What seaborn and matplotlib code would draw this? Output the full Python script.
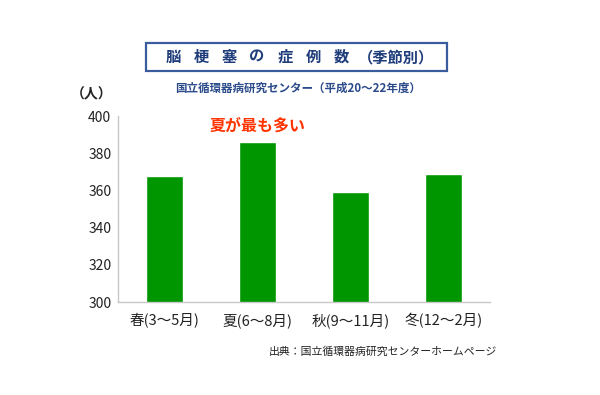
import matplotlib
matplotlib.use('Agg')
import matplotlib.pyplot as plt
import seaborn as sns
import pandas as pd
from matplotlib.patches import Rectangle

# Data
seasons = ['春(3～5月)', '夏(6～8月)', '秋(9～11月)', '冬(12～2月)']
cases = [368, 386, 359, 369]
y_ticks = [300, 320, 340, 360, 380, 400]

df = pd.DataFrame({'season': seasons, 'cases': cases})

sns.set_theme(style='white')
plt.rcParams['font.family'] = ['Noto Sans CJK JP', 'DejaVu Sans']

W, H = 600, 395
fig = plt.figure(figsize=(6, 3.95), dpi=100)
ax = fig.add_axes([0.197, 0.235, 0.62, 0.471])

sns.barplot(data=df, x='season', y='cases', color='#009600', width=0.4,
            saturation=1, ax=ax)

ax.set_ylim(300, 400)
ax.set_xlim(-0.5, 3.5)
ax.set_yticks(y_ticks)
ax.set_xlabel('')
ax.set_ylabel('')
ax.tick_params(axis='y', labelsize=10, colors='#222222', length=0, pad=5)
ax.tick_params(axis='x', labelsize=10.5, colors='#222222', length=0, pad=8)
for s in ['top', 'right']:
    ax.spines[s].set_visible(False)
for s in ['left', 'bottom']:
    ax.spines[s].set_color('#c8c8c8')
    ax.spines[s].set_linewidth(1)

# title box
fig.patches.append(Rectangle((146 / W, 1 - 71 / H), 301 / W, 28 / H, transform=fig.transFigure,
                             fc='white', ec='#3b5c9c', lw=1.6))
title_chars = '脳梗塞の症例数'
for i, ch in enumerate(title_chars):
    fig.text((173 + 28 * i) / W, 1 - 57 / H, ch, ha='center', va='center',
             fontsize=11, fontweight='bold', color='#1f3d7a')
fig.text(396 / W, 1 - 57 / H, '（季節別）', ha='center', va='center',
         fontsize=11, fontweight='bold', color='#1f3d7a')

fig.text(0.497, 1 - 88 / H, '国立循環器病研究センター（平成20～22年度）', ha='center', va='center',
         fontsize=8.3, fontweight='bold', color='#2a4a8a')
fig.text(92 / W, 1 - 94 / H, '（人）', ha='center', va='center', fontsize=10,
         fontweight='bold', color='#222222')

# annotation for the peak
ax.annotate('夏が最も多い', xy=(1, cases[1]), xytext=(0, 12), textcoords='offset points',
            ha='center', va='center', fontsize=11.5, fontweight='bold', color='#ff3300')

fig.text(497 / W, 1 - 352 / H, '出典：国立循環器病研究センターホームページ', ha='right', va='center',
         fontsize=7.8, color='#222222')

fig.savefig('out.png', dpi=100, facecolor='white')
